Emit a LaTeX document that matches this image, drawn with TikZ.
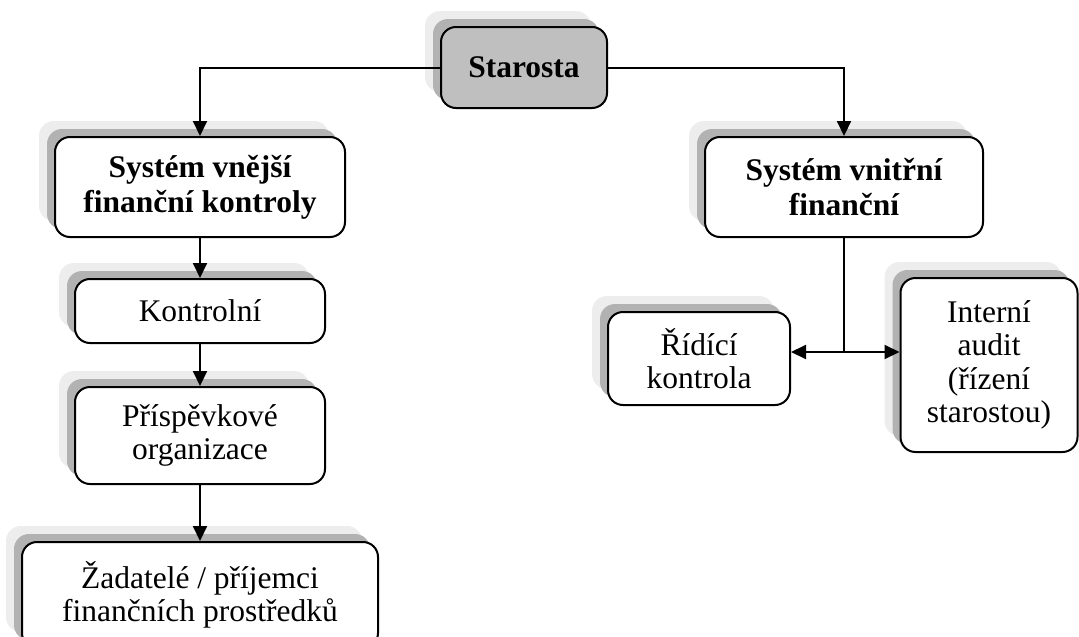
\documentclass[tikz,border=0pt]{standalone}
\usepackage{fontspec}
\setmainfont{Liberation Serif}
\usetikzlibrary{shadows,arrows.meta}

\tikzset{
  orgbox/.style={draw=black, line width=2pt, rounded corners=15pt, fill=white,
    align=center, inner sep=2pt, font=\fontsize{31.5}{33.5}\selectfont,
    copy shadow={draw=none, fill=black!7, shadow xshift=-16pt, shadow yshift=16pt},
    copy shadow={draw=none, fill=black!30, shadow xshift=-8pt, shadow yshift=8pt}},
  headbox/.style={orgbox, font=\fontsize{31.5}{35}\selectfont\bfseries},
  link/.style={line width=2pt, -{Triangle[length=15pt,width=14pt]}},
  plain/.style={line width=2pt}
}

\begin{document}
\begin{tikzpicture}[x=1pt,y=-1pt]
\useasboundingbox (0,0) rectangle (1079,637);

% top of the hierarchy
\node[headbox, fill=black!25, minimum width=166pt, minimum height=81pt] (star) at (524,67.5) {Starosta};

% external control branch
\node[headbox, minimum width=290pt, minimum height=100pt] (ext) at (200,187) {Systém vnější\\finanční kontroly};
\node[orgbox, minimum width=250pt, minimum height=64pt] (kon) at (200,311) {Kontrolní};
\node[orgbox, minimum width=250pt, minimum height=97pt] (pri) at (200,435.5) {Příspěvkové\\organizace};
\node[orgbox, minimum width=356pt, minimum height=106pt] (zad) at (200,595) {Žadatelé / příjemci\\finančních prostředků};

% internal control branch
\node[headbox, minimum width=278pt, minimum height=100pt] (int) at (844,187) {Systém vnitřní\\finanční};
\node[orgbox, minimum width=182pt, minimum height=93pt] (rid) at (699,358.5) {Řídící\\kontrola};
\node[orgbox, minimum width=177pt, minimum height=174pt] (aud) at (989,365) {Interní\\audit\\(řízení\\starostou)};

% connectors
\draw[link] (star.west) -| (ext.north);
\draw[link] (star.east) -| (int.north);
\draw[link] (ext.south) -- (kon.north);
\draw[link] (kon.south) -- (pri.north);
\draw[link] (pri.south) -- (zad.north);

\coordinate (fork) at (int.south |- 0,352);
\draw[plain] (int.south) -- (fork);
\draw[link] (fork) -- (rid.east |- fork);
\draw[link] (fork) -- (aud.west |- fork);
\end{tikzpicture}
\end{document}
